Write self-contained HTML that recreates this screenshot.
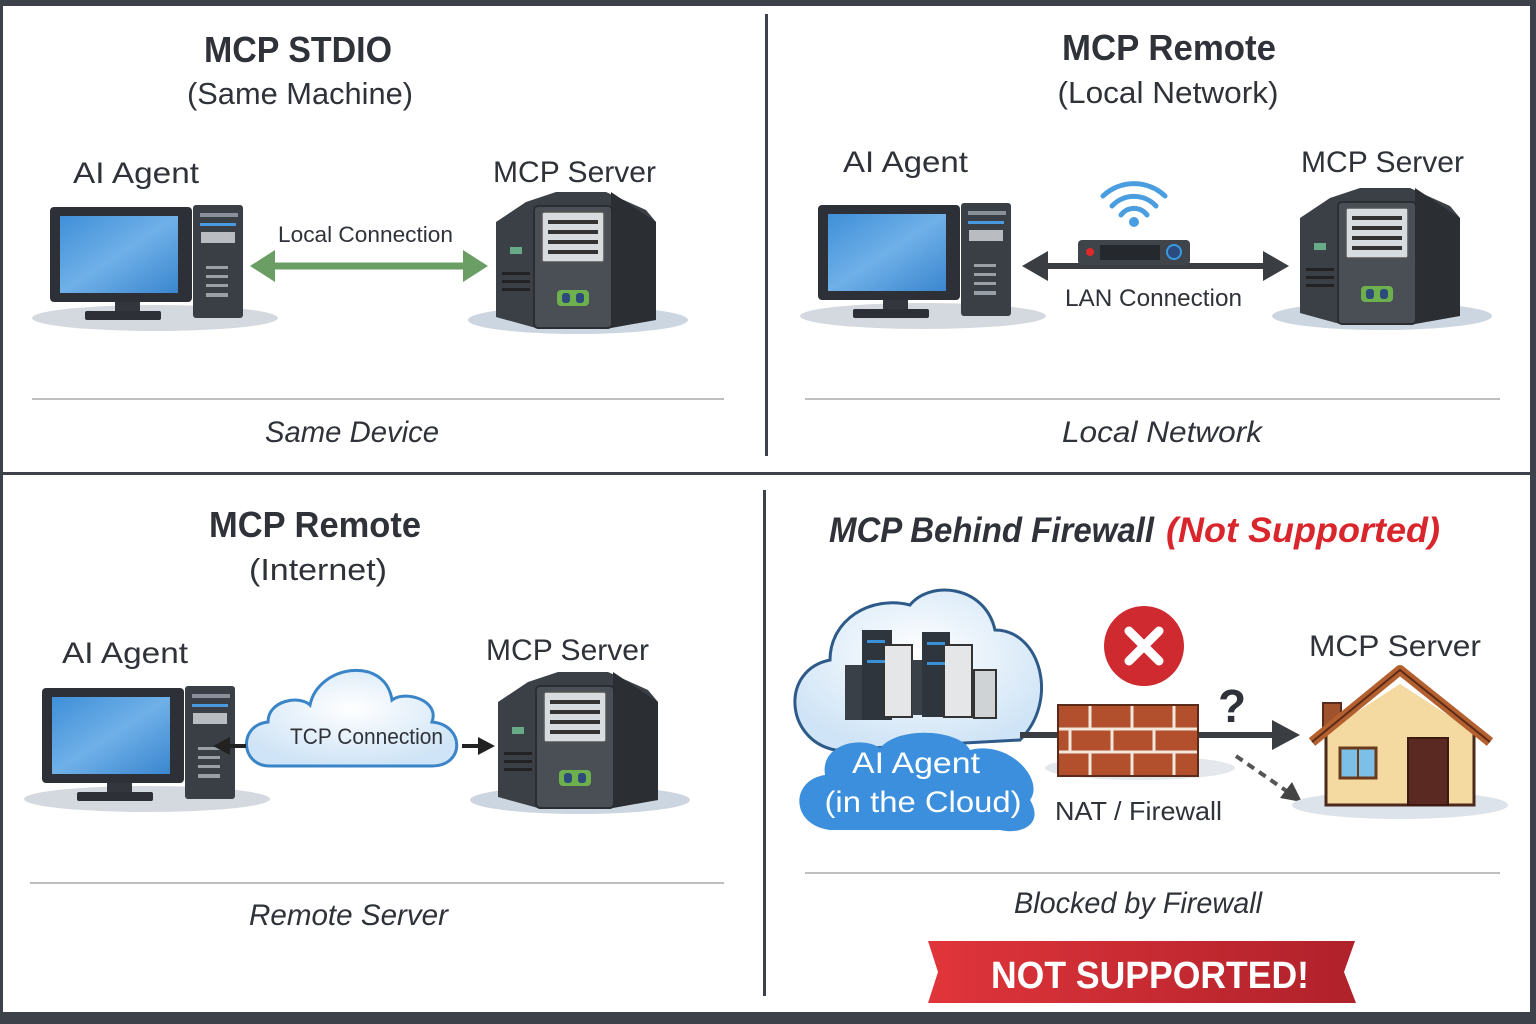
<!DOCTYPE html>
<html><head><meta charset="utf-8"><style>
html,body{margin:0;padding:0;background:#3d424a;}
svg{display:block;}
text{font-family:"Liberation Sans",sans-serif;fill:#2f3238;}
</style></head><body>
<svg width="1536" height="1024" viewBox="0 0 1536 1024" xmlns="http://www.w3.org/2000/svg">
<defs>
 <linearGradient id="scr" x1="0" y1="0" x2="1" y2="1"><stop offset="0" stop-color="#3f8fd8"/><stop offset="0.5" stop-color="#6fb0e8"/><stop offset="1" stop-color="#3a86cf"/></linearGradient>
 <linearGradient id="red" x1="0" y1="0" x2="1" y2="0"><stop offset="0" stop-color="#e0353b"/><stop offset="1" stop-color="#b0212a"/></linearGradient>
 <radialGradient id="cl" cx="0.5" cy="0.4" r="0.6"><stop offset="0" stop-color="#ffffff"/><stop offset="1" stop-color="#cfe4f6"/></radialGradient>
 <g id="pc">
  <ellipse cx="105" cy="111" rx="123" ry="13" fill="#d4d9df"/>
  <rect x="0" y="0" width="142" height="95" rx="4" fill="#2d3036"/>
  <rect x="10" y="9" width="118" height="77" fill="url(#scr)"/>
  <rect x="65" y="95" width="25" height="12" fill="#33363c"/>
  <rect x="35" y="104" width="76" height="9" rx="2" fill="#2d3036"/>
  <rect x="143" y="-2" width="50" height="113" rx="3" fill="#3a3e45"/>
  <rect x="150" y="6" width="38" height="4" fill="#8a9099"/>
  <rect x="150" y="16" width="36" height="3" fill="#4a9ae0"/>
  <rect x="151" y="25" width="34" height="11" fill="#b9bdc2"/>
  <rect x="156" y="59" width="22" height="3" fill="#9aa0a8"/>
  <rect x="156" y="68" width="22" height="3" fill="#9aa0a8"/>
  <rect x="156" y="77" width="22" height="3" fill="#9aa0a8"/>
  <rect x="156" y="86" width="22" height="4" fill="#9aa0a8"/>
 </g>
 <g id="srv">
  <ellipse cx="82" cy="128" rx="110" ry="14" fill="#ccd6e0"/>
  <path d="M0 30 L30 10 L60 0 L110 0 L150 18 L160 30 L160 128 L40 136 L0 125 Z" fill="#3b3f46"/>
  <path d="M115 0 L160 30 L160 128 L115 136 Z" fill="#2b2e33"/>
  <rect x="38" y="14" width="78" height="122" rx="4" fill="#4a4e55" stroke="#2a2d32" stroke-width="2"/>
  <rect x="46" y="20" width="62" height="50" rx="2" fill="#d9dcdf" stroke="#555" stroke-width="1.5"/>
  <rect x="52" y="28" width="50" height="4" fill="#333"/>
  <rect x="52" y="38" width="50" height="4" fill="#333"/>
  <rect x="52" y="48" width="50" height="4" fill="#333"/>
  <rect x="52" y="58" width="50" height="4" fill="#333"/>
  <rect x="61" y="98" width="32" height="16" rx="4" fill="#6fb04e"/>
  <rect x="66" y="101" width="8" height="10" rx="3" fill="#2c4a7a"/><rect x="80" y="101" width="8" height="10" rx="3" fill="#2c4a7a"/>
  <rect x="14" y="55" width="12" height="7" fill="#6a8"/>
  <rect x="6" y="80" width="28" height="3" fill="#222"/><rect x="6" y="88" width="28" height="3" fill="#222"/><rect x="6" y="96" width="28" height="3" fill="#222"/>
 </g>
 <marker id="ab" markerWidth="8" markerHeight="8" refX="5" refY="4" orient="auto" markerUnits="userSpaceOnUse"><path d="M0 0 L8 4 L0 8Z" fill="#333"/></marker>
</defs>
<rect x="3" y="6" width="1527" height="1006" fill="#ffffff"/>
<!-- dividers -->
<rect x="0" y="472" width="1530" height="3" fill="#3d424a"/>
<rect x="765" y="14" width="3" height="442" fill="#3d424a"/>
<rect x="763" y="490" width="3" height="506" fill="#3d424a"/>
<g stroke="#999" stroke-width="1.2">
 <line x1="32" y1="399" x2="724" y2="399"/><line x1="805" y1="399" x2="1500" y2="399"/>
 <line x1="30" y1="883" x2="724" y2="883"/><line x1="805" y1="873" x2="1500" y2="873"/>
</g>

<!-- TL -->
<text x="298" y="62" font-size="36" font-weight="bold" text-anchor="middle" textLength="188" lengthAdjust="spacingAndGlyphs">MCP STDIO</text>
<text x="300" y="104" font-size="31" text-anchor="middle" textLength="226" lengthAdjust="spacingAndGlyphs">(Same Machine)</text>
<text x="73" y="183" font-size="30" textLength="126" lengthAdjust="spacingAndGlyphs">AI Agent</text>
<text x="493" y="182" font-size="30" textLength="163" lengthAdjust="spacingAndGlyphs">MCP Server</text>
<use href="#pc" x="50" y="207"/>
<use href="#srv" x="496" y="192"/>
<text x="278" y="242" font-size="22" textLength="175" lengthAdjust="spacingAndGlyphs">Local Connection</text>
<line x1="270" y1="266" x2="468" y2="266" stroke="#6a9e64" stroke-width="7"/>
<path d="M250 266 L275 250 L275 282Z M488 266 L463 250 L463 282Z" fill="#6a9e64"/>
<text x="265" y="442" font-size="30" font-style="italic" textLength="174" lengthAdjust="spacingAndGlyphs">Same Device</text>

<!-- TR -->
<text x="1169" y="60" font-size="36" font-weight="bold" text-anchor="middle" textLength="214" lengthAdjust="spacingAndGlyphs">MCP Remote</text>
<text x="1168" y="103" font-size="31" text-anchor="middle" textLength="221" lengthAdjust="spacingAndGlyphs">(Local Network)</text>
<text x="843" y="172" font-size="30" textLength="125" lengthAdjust="spacingAndGlyphs">AI Agent</text>
<text x="1301" y="172" font-size="30" textLength="163" lengthAdjust="spacingAndGlyphs">MCP Server</text>
<use href="#pc" x="818" y="205"/>
<use href="#srv" x="1300" y="188"/>
<line x1="1040" y1="266" x2="1270" y2="266" stroke="#3a3d42" stroke-width="6"/>
<path d="M1022 266 L1048 251 L1048 281Z M1289 266 L1263 251 L1263 281Z" fill="#3a3d42"/>
<rect x="1078" y="240" width="112" height="25" rx="4" fill="#3f434a"/>
<rect x="1100" y="245" width="60" height="15" fill="#25282c"/>
<circle cx="1090" cy="252" r="4" fill="#e02a2a"/>
<circle cx="1174" cy="252" r="7" fill="#2a4a80" stroke="#3a9ae0" stroke-width="2"/>
<g fill="none" stroke="#4a9ee0" stroke-width="5" stroke-linecap="round">
 <path d="M1103 196 A45 45 0 0 1 1165 196"/><path d="M1112 206 A30 30 0 0 1 1156 206"/><path d="M1121 215 A16 16 0 0 1 1147 215"/>
</g>
<circle cx="1134" cy="222" r="5" fill="#4a9ee0"/>
<text x="1065" y="306" font-size="24" textLength="177" lengthAdjust="spacingAndGlyphs">LAN Connection</text>
<text x="1062" y="442" font-size="30" font-style="italic" textLength="200" lengthAdjust="spacingAndGlyphs">Local Network</text>

<!-- BL -->
<text x="315" y="537" font-size="36" font-weight="bold" text-anchor="middle" textLength="212" lengthAdjust="spacingAndGlyphs">MCP Remote</text>
<text x="318" y="580" font-size="31" text-anchor="middle" textLength="138" lengthAdjust="spacingAndGlyphs">(Internet)</text>
<text x="62" y="663" font-size="30" textLength="126" lengthAdjust="spacingAndGlyphs">AI Agent</text>
<text x="486" y="660" font-size="30" textLength="163" lengthAdjust="spacingAndGlyphs">MCP Server</text>
<use href="#pc" x="42" y="688"/>
<use href="#srv" x="498" y="672"/>
<path d="M270 766 C240 766 238 725 268 722 C268 700 300 695 310 705 C318 665 385 655 392 700 C405 690 440 700 432 722 C465 725 465 766 432 766 Z" fill="url(#cl)" stroke="#3a84c8" stroke-width="3"/>
<text x="290" y="744" font-size="22" textLength="153" lengthAdjust="spacingAndGlyphs">TCP Connection</text>
<line x1="225" y1="746" x2="246" y2="746" stroke="#222" stroke-width="4"/>
<path d="M213 746 L230 737 L230 755Z" fill="#222"/>
<line x1="462" y1="746" x2="484" y2="746" stroke="#222" stroke-width="4"/>
<path d="M495 746 L478 737 L478 755Z" fill="#222"/>
<text x="249" y="925" font-size="30" font-style="italic" textLength="199" lengthAdjust="spacingAndGlyphs">Remote Server</text>

<!-- BR -->
<text x="829" y="542" font-size="35" font-weight="bold" font-style="italic" textLength="325" lengthAdjust="spacingAndGlyphs">MCP Behind Firewall</text>
<text x="1166" y="542" font-size="35" font-weight="bold" font-style="italic" fill="#d9262c" style="fill:#d9262c" textLength="274" lengthAdjust="spacingAndGlyphs">(Not Supported)</text>
<path d="M835 750 C785 740 780 670 830 660 C830 620 870 595 910 605 C930 580 985 585 995 630 C1040 630 1060 700 1020 740 Z" fill="url(#cl)" stroke="#2e5a8a" stroke-width="3"/>
<g>
 <rect x="845" y="665" width="18" height="55" fill="#3a4048"/>
 <rect x="862" y="630" width="30" height="90" fill="#2f353d"/>
 <rect x="884" y="645" width="28" height="72" fill="#e4e6e8" stroke="#333" stroke-width="2"/>
 <rect x="912" y="660" width="14" height="55" fill="#3a4048"/>
 <rect x="922" y="632" width="28" height="85" fill="#2f353d"/>
 <rect x="944" y="645" width="28" height="72" fill="#e4e6e8" stroke="#333" stroke-width="2"/>
 <rect x="974" y="670" width="22" height="48" fill="#d0d3d6" stroke="#333" stroke-width="2"/>
 <g fill="#3a90d8"><rect x="867" y="640" width="18" height="3"/><rect x="927" y="642" width="18" height="3"/><rect x="867" y="660" width="18" height="3"/><rect x="927" y="662" width="18" height="3"/></g>
</g>
<path d="M830 830 C790 825 790 780 825 775 C820 745 860 735 880 748 C900 725 960 730 970 750 C1010 740 1045 780 1030 800 C1045 825 1020 835 1000 830 Z" fill="#3b8fdc"/>
<text x="916" y="773" font-size="30" text-anchor="middle" fill="#fff" style="fill:#fff" textLength="128" lengthAdjust="spacingAndGlyphs">AI Agent</text>
<text x="923" y="812" font-size="30" text-anchor="middle" fill="#fff" style="fill:#fff" textLength="197" lengthAdjust="spacingAndGlyphs">(in the Cloud)</text>
<ellipse cx="1140" cy="768" rx="95" ry="12" fill="#e4e8ec"/>
<line x1="1020" y1="735" x2="1278" y2="735" stroke="#3a3d42" stroke-width="6"/>
<path d="M1300 735 L1272 720 L1272 750Z" fill="#3a3d42"/>
<rect x="1058" y="705" width="140" height="71" fill="#b2502e" stroke="#5a2a1a" stroke-width="2"/>
<g stroke="#f3e6da" stroke-width="3">
 <line x1="1059" y1="729" x2="1197" y2="729"/><line x1="1059" y1="752" x2="1197" y2="752"/>
 <line x1="1090" y1="706" x2="1090" y2="729"/><line x1="1132" y1="706" x2="1132" y2="729"/><line x1="1174" y1="706" x2="1174" y2="729"/>
 <line x1="1070" y1="729" x2="1070" y2="752"/><line x1="1112" y1="729" x2="1112" y2="752"/><line x1="1154" y1="729" x2="1154" y2="752"/>
 <line x1="1090" y1="752" x2="1090" y2="775"/><line x1="1132" y1="752" x2="1132" y2="775"/><line x1="1174" y1="752" x2="1174" y2="775"/>
</g>
<circle cx="1144" cy="646" r="40" fill="#cf2a30"/>
<path d="M1129 631 L1159 661 M1159 631 L1129 661" stroke="#fff" stroke-width="9" stroke-linecap="round"/>
<text x="1218" y="722" font-size="46" font-weight="bold">?</text>
<line x1="1236" y1="756" x2="1288" y2="792" stroke="#555" stroke-width="4" stroke-dasharray="8 6"/>
<path d="M1302 802 L1280 798 L1292 782Z" fill="#444"/>
<text x="1055" y="820" font-size="26" textLength="167" lengthAdjust="spacingAndGlyphs">NAT / Firewall</text>
<text x="1309" y="656" font-size="30" textLength="172" lengthAdjust="spacingAndGlyphs">MCP Server</text>
<ellipse cx="1400" cy="805" rx="108" ry="14" fill="#dde3ea"/>
<rect x="1323" y="703" width="18" height="30" fill="#a0522d" stroke="#5a2a1a" stroke-width="2"/>
<rect x="1326" y="730" width="148" height="75" fill="#f4d9a0" stroke="#4a2a1a" stroke-width="3"/>
<path d="M1326 732 L1400 684 L1474 732 Z" fill="#f4d9a0"/>
<path d="M1312 742 L1400 670 L1490 742" fill="none" stroke="#b4602e" stroke-width="10" stroke-linejoin="round"/>
<path d="M1312 742 L1400 670 L1490 742" fill="none" stroke="#5a2a1a" stroke-width="2"/>
<rect x="1340" y="748" width="36" height="30" fill="#7cc0e8" stroke="#6a3a1a" stroke-width="3"/>
<line x1="1358" y1="748" x2="1358" y2="778" stroke="#6a3a1a" stroke-width="2"/>
<rect x="1408" y="738" width="40" height="67" fill="#5a2a22" stroke="#3a1a12" stroke-width="2"/>
<text x="1014" y="913" font-size="30" font-style="italic" textLength="248" lengthAdjust="spacingAndGlyphs">Blocked by Firewall</text>
<path d="M928 941 L1355 941 L1344 972 L1356 1003 L928 1003 L938 972 Z" fill="url(#red)"/>
<text x="1150" y="988" font-size="38" font-weight="bold" text-anchor="middle" fill="#fff" style="fill:#fff" textLength="318" lengthAdjust="spacingAndGlyphs">NOT SUPPORTED!</text>
</svg>
</body></html>
